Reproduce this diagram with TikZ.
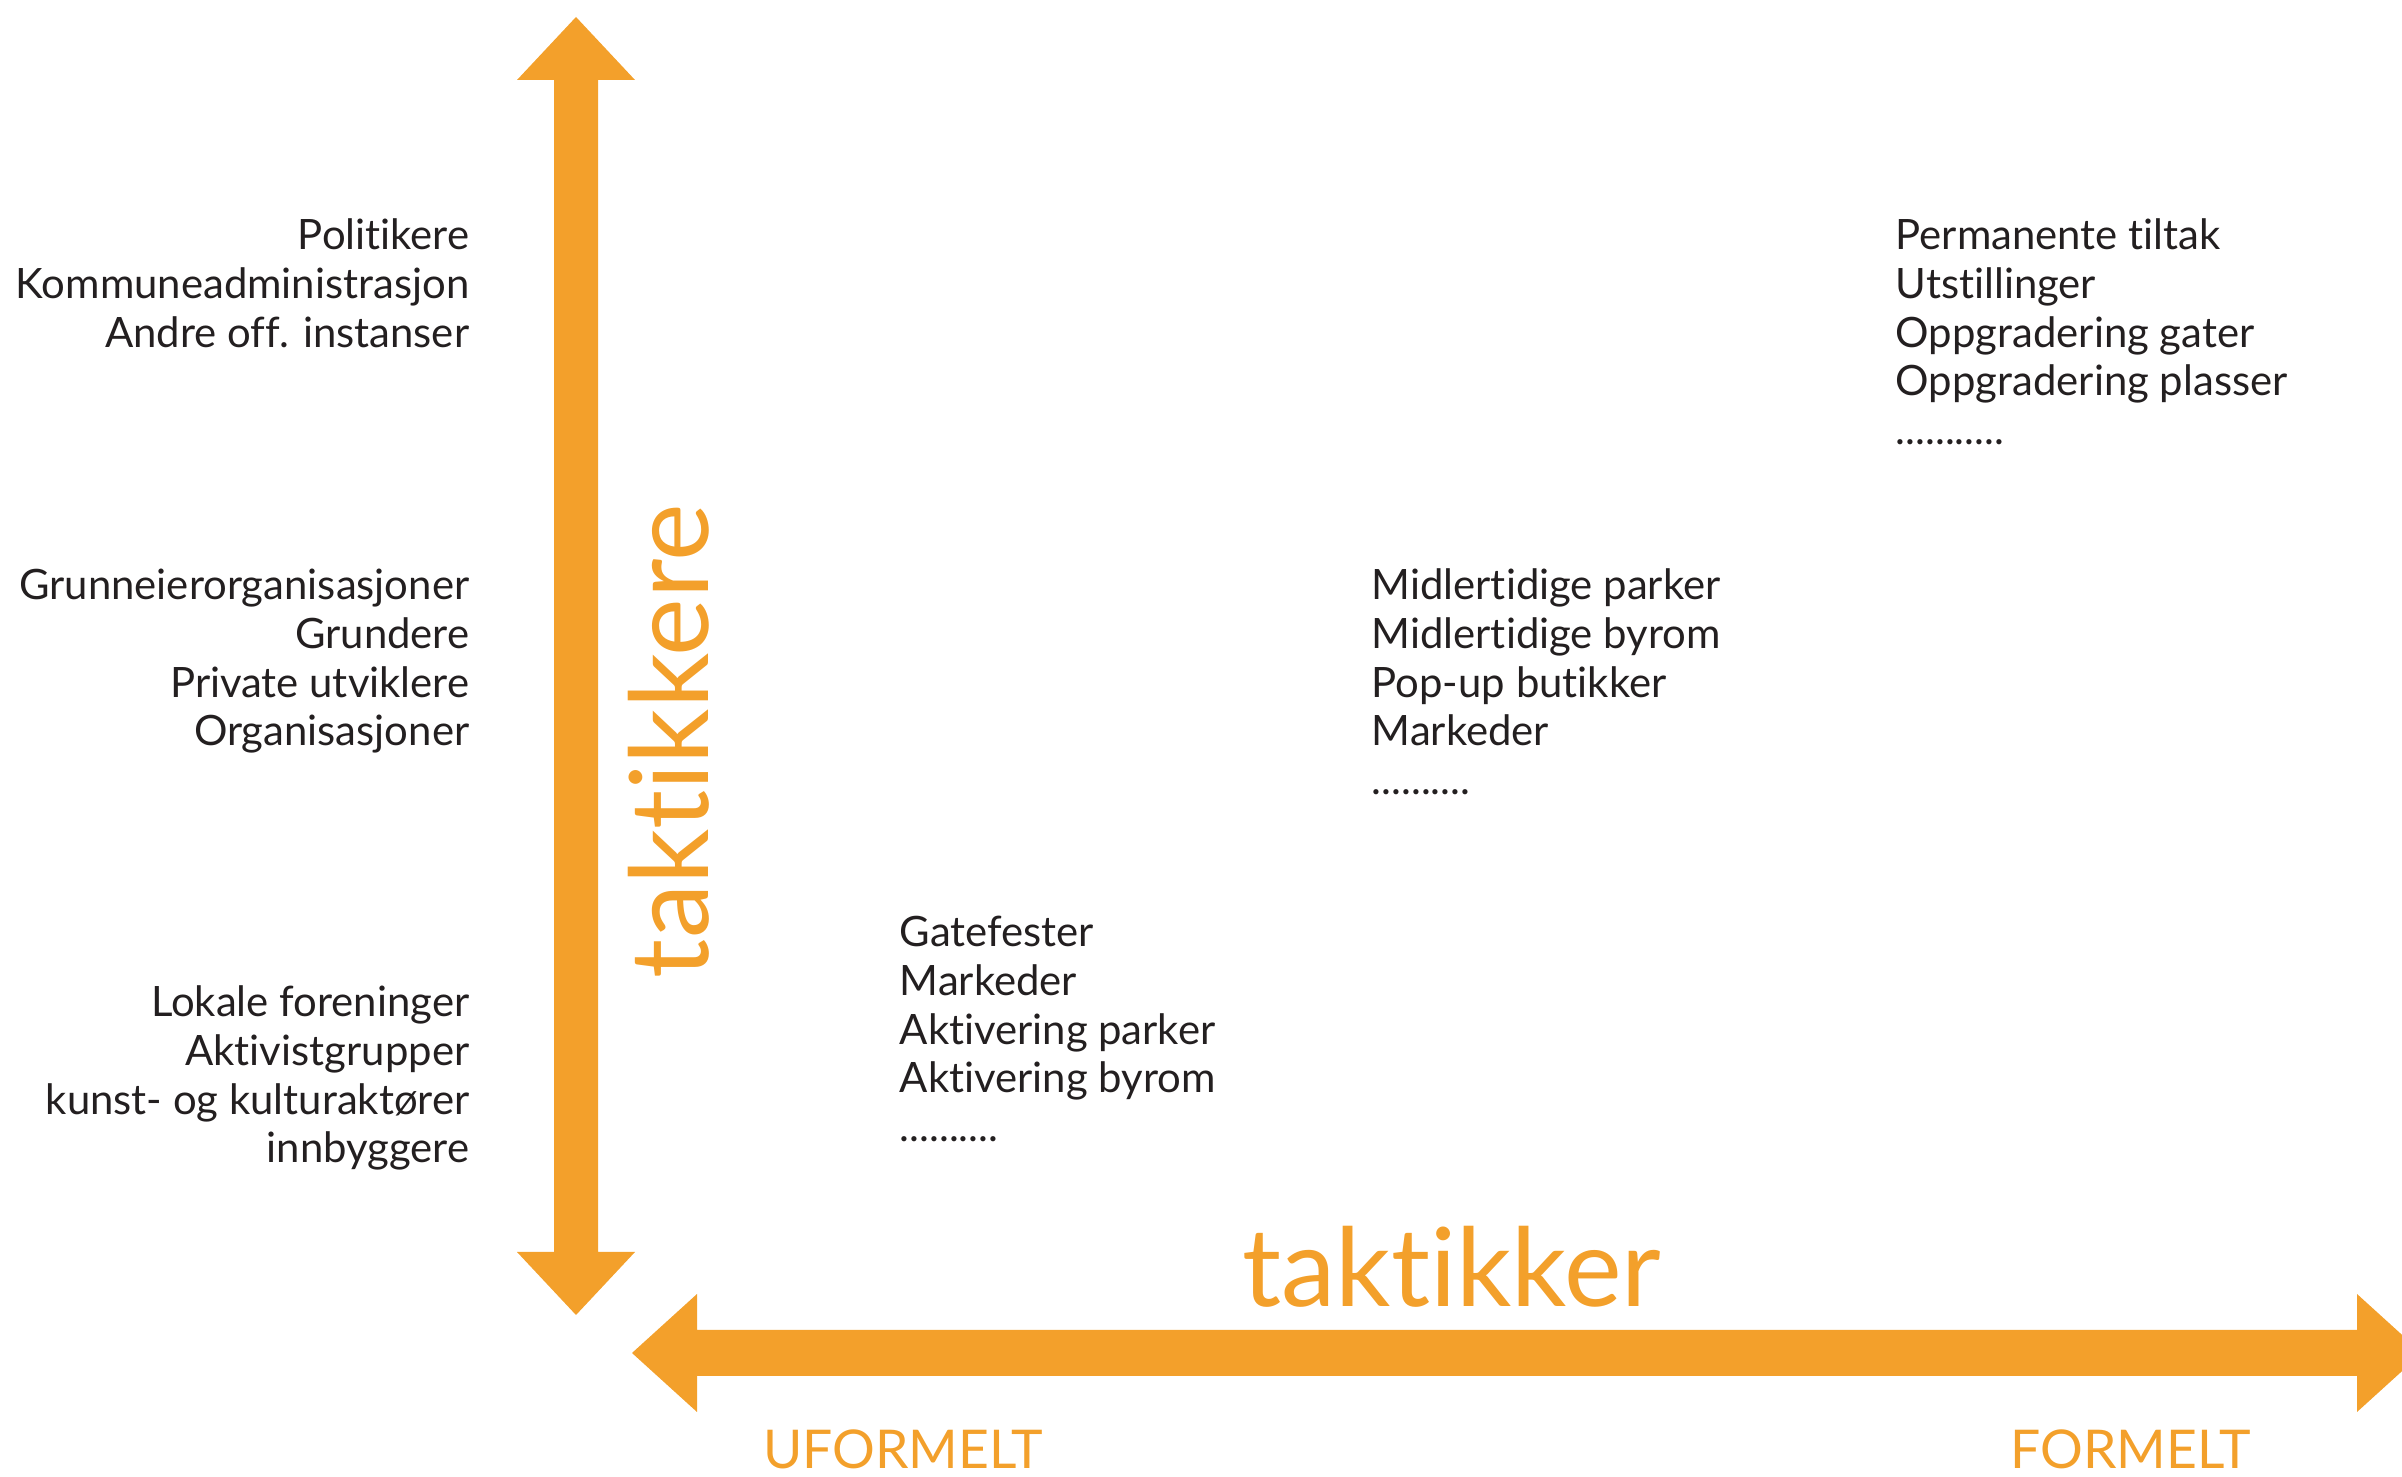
\documentclass[tikz,border=0pt]{standalone}
\usepackage{fontspec}
\setmainfont{Lato}[RawFeature={-liga;-clig;-dlig}]
\definecolor{axisorange}{HTML}{F3A02B}
\definecolor{inkdark}{HTML}{231F20}
\begin{document}
\begin{tikzpicture}[x={(0.01cm,0)}, y={(0,-0.01cm)},
  lft/.style={anchor=base east, inner sep=0pt, text=inkdark, font=\fontsize{11.9}{14}\selectfont},
  rgt/.style={anchor=base west, inner sep=0pt, text=inkdark, font=\fontsize{11.9}{14}\selectfont},
  bigaxis/.style={anchor=base, inner sep=0pt, text=axisorange, font=\fontsize{31}{36}\selectfont},
  endlabel/.style={anchor=base, inner sep=0pt, text=axisorange, font=\fontsize{15.2}{18}\selectfont},
  axisfill/.style={fill=axisorange, draw=none}]
\useasboundingbox (0,0) rectangle (2402,1477);
\clip (0,0) rectangle (2402,1477);
% vertical double arrow
\coordinate (vtop) at (576,17);
\coordinate (vbot) at (576,1315);
\fill[axisfill] (vtop) -- (635,80) -- (598,80) -- (598,1252) -- (635,1252) -- (vbot)
  -- (517,1252) -- (554,1252) -- (554,80) -- (517,80) -- cycle;
% horizontal double arrow
\coordinate (hleft) at (632,1353);
\coordinate (hright) at (2422,1353);
\fill[axisfill] (hleft) -- (697,1294) -- (697,1330) -- (2357,1330) -- (2357,1294) -- (hright)
  -- (2357,1412) -- (2357,1376) -- (697,1376) -- (697,1412) -- cycle;
% axis titles
\node[bigaxis, rotate=90] (ytitle) at (708,741) {taktikkere};
\node[bigaxis] (xtitle) at (1452,1307) {taktikker};
\node[endlabel] (uform) at (903,1469) {UFORMELT};
\node[endlabel] (form) at (2131,1469) {FORMELT};
% left column
\foreach \t [count=\i] in {Politikere, Kommuneadministrasjon, Andre off. instanser}
  \node[lft] (a\i) at (470,{250+48.6*(\i-1)}) {\t};
\foreach \t [count=\i] in {Grunneierorganisasjoner, Grundere, Private utviklere, Organisasjoner}
  \node[lft] (b\i) at (470,{600+48.6*(\i-1)}) {\t};
\foreach \t [count=\i] in {Lokale foreninger, Aktivistgrupper, kunst- og kulturaktører, innbyggere}
  \node[lft] (c\i) at (470,{1017+48.6*(\i-1)}) {\t};
% tactic groups
\foreach \t [count=\i] in {Permanente tiltak, Utstillinger, Oppgradering gater, Oppgradering plasser}
  \node[rgt] (r\i) at (1895,{250+48.6*(\i-1)}) {\t};
\node[rgt] (r5) at (1895,444.4) {...........};
\foreach \t [count=\i] in {Midlertidige parker, Midlertidige byrom, Pop-up butikker, Markeder}
  \node[rgt] (m\i) at (1371,{600+48.6*(\i-1)}) {\t};
\node[rgt] (m5) at (1371,794.4) {..........};
\foreach \t [count=\i] in {Gatefester, Markeder, Aktivering parker, Aktivering byrom}
  \node[rgt] (s\i) at (899,{947+48.6*(\i-1)}) {\t};
\node[rgt] (s5) at (899,1141.4) {..........};
\end{tikzpicture}
\end{document}
